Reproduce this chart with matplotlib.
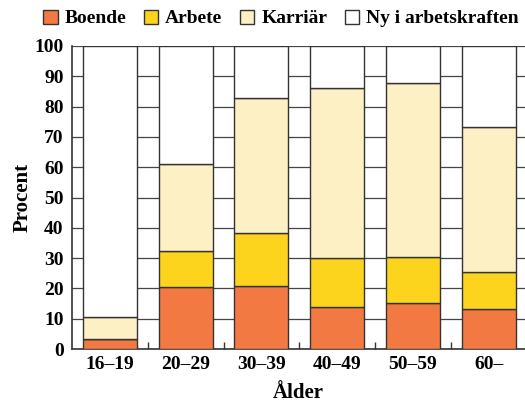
import numpy as np
import matplotlib.pyplot as plt

# --- Data ---
aldrar = ['16–19', '20–29', '30–39', '40–49', '50–59', '60–']
boende = [3.2, 20.6, 20.8, 13.8, 15.1, 13.1]
arbete = [0.0, 11.7, 17.5, 16.1, 15.4, 12.4]
karriar = [7.5, 28.7, 44.4, 56.1, 57.3, 47.8]
serier = ['Boende', 'Arbete', 'Karriär', 'Ny i arbetskraften']

# --- Colours ---
ORANGE = '#F27A42'
GUL = '#FDD41D'
CREME = '#FCF0C4'
VIT = '#FFFFFF'
LINJE = '#333333'

plt.rcParams.update({
    'font.family': 'Liberation Serif',
    'font.weight': 'bold',
    'axes.labelweight': 'bold',
})

boende = np.array(boende)
arbete = np.array(arbete)
karriar = np.array(karriar)
ny = 100 - (boende + arbete + karriar)

fig = plt.figure(figsize=(5.25, 4.03), dpi=100)
ax = fig.add_axes([72 / 525, 54 / 403, 453 / 525, 303 / 403])

x = np.arange(len(aldrar))
w = 0.71
bott = np.zeros(len(aldrar))
for vals, col, lab in zip([boende, arbete, karriar, ny],
                          [ORANGE, GUL, CREME, VIT], serier):
    ax.bar(x, vals, w, bottom=bott, color=col, edgecolor=LINJE,
           linewidth=1.0, label=lab, zorder=3)
    bott += vals

ax.set_xlim(-0.5, 5.48)
ax.set_ylim(0, 100)
ax.set_yticks(np.arange(0, 101, 10))
ax.yaxis.grid(True, color='#444444', linewidth=0.9, zorder=0)
ax.set_axisbelow(True)
ax.tick_params(axis='y', length=0, pad=6, labelsize=14)

ax.set_xticks(x)
ax.set_xticklabels(aldrar)
ax.set_xticks(np.arange(0.5, 5, 1), minor=True)
ax.tick_params(axis='x', which='major', length=0, pad=5, labelsize=14)
ax.tick_params(axis='x', which='minor', direction='in', length=5,
               width=1.0, color=LINJE)

for s in ['top', 'right']:
    ax.spines[s].set_visible(False)
for s in ['left', 'bottom']:
    ax.spines[s].set_color(LINJE)
    ax.spines[s].set_linewidth(1.2)

ax.set_ylabel('Procent', fontsize=15, labelpad=1)
ax.set_xlabel('Ålder', fontsize=15, labelpad=7)

fig.legend(loc='upper center', bbox_to_anchor=(0.535, 1.01), ncol=4,
           frameon=False, handlelength=0.75, handleheight=0.75,
           handletextpad=0.35, columnspacing=0.9, borderaxespad=0.3,
           prop={'weight': 'semibold', 'size': 14})

fig.savefig('out.png', dpi=100)
